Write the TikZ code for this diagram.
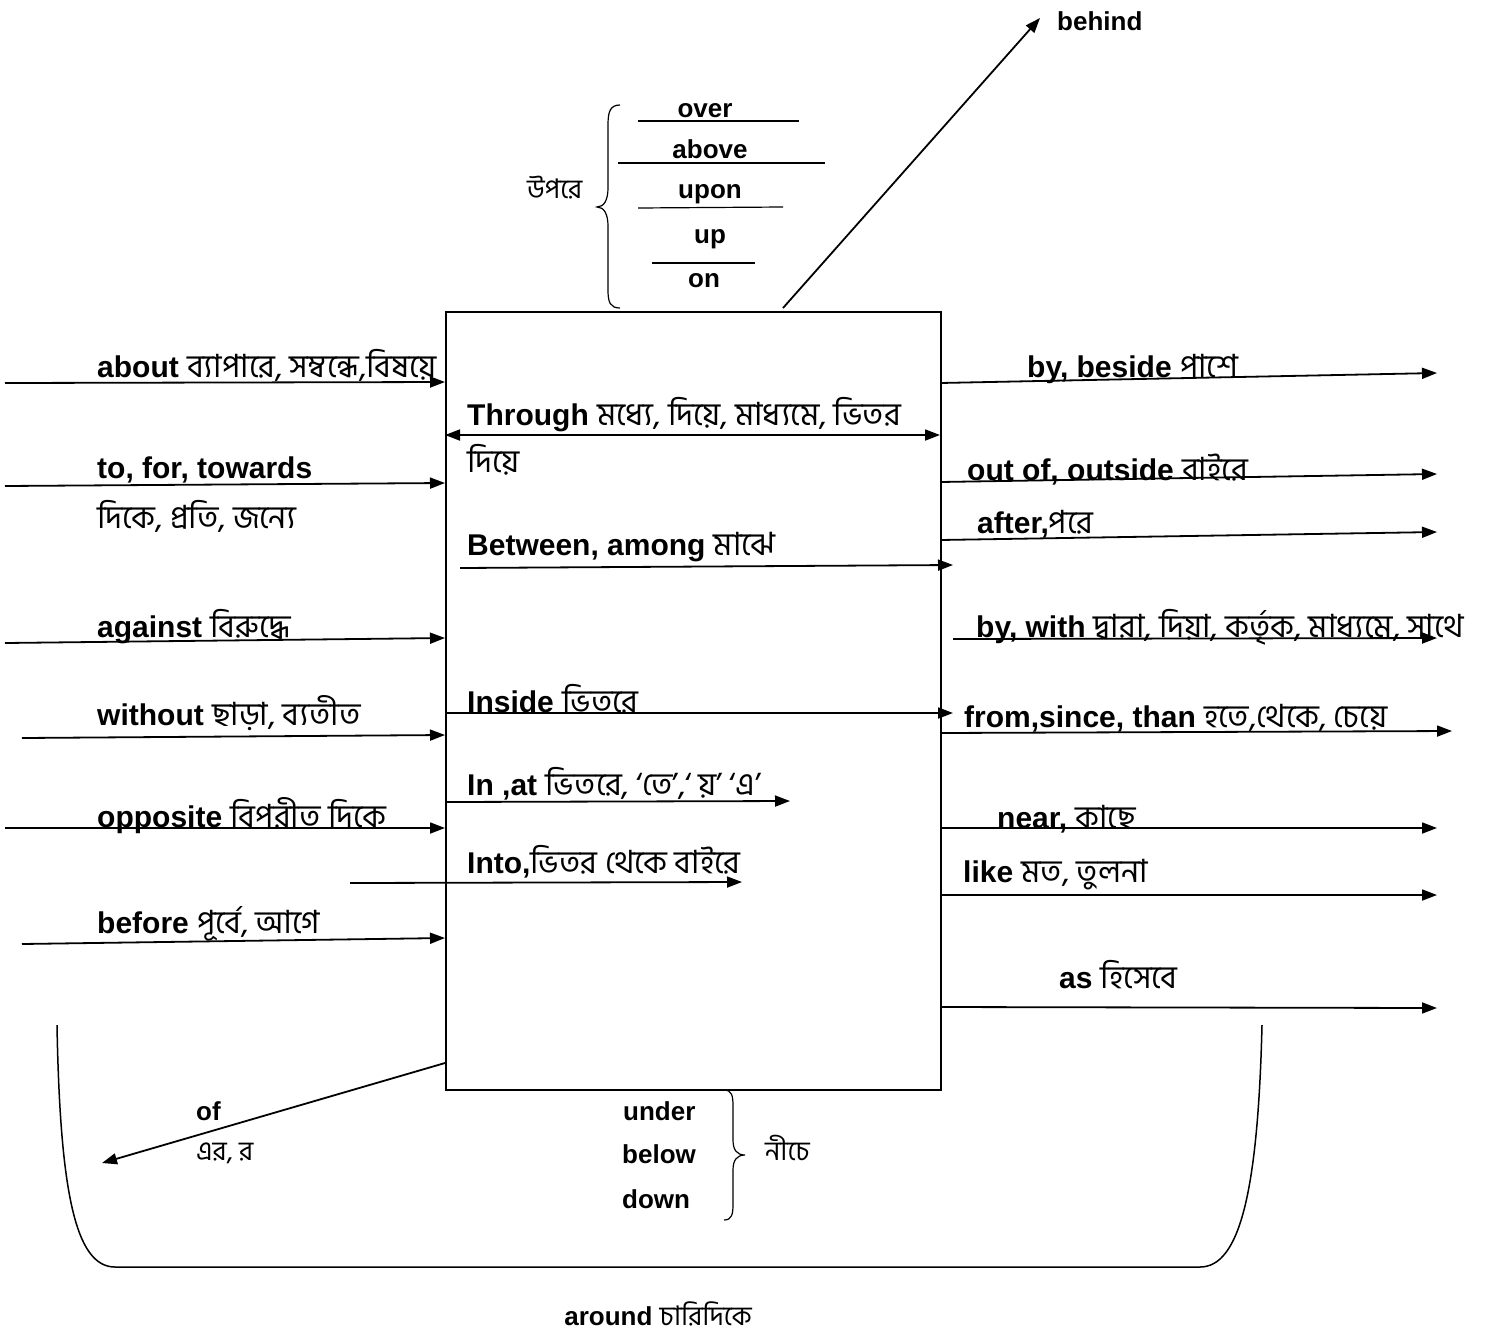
\documentclass[tikz,border=0pt]{standalone}
\usepackage{fontspec}
\setmainfont{Liberation Sans}
\newfontfamily\bnfont[Script=Bengali]{Hind Siliguri}
\usetikzlibrary{arrows.meta}
\newcommand\bng[1]{{\bnfont\mdseries\fontsize{32}{38}\selectfont #1}}
\newcommand\bngs[1]{{\bnfont\mdseries\fontsize{27}{32}\selectfont #1}}
\tikzset{
  lbl/.style={anchor=base west, inner sep=0pt, font=\fontsize{30}{36}\selectfont\bfseries},
  sml/.style={anchor=base west, inner sep=0pt, font=\fontsize{26}{30}\selectfont\bfseries},
  smc/.style={anchor=base, inner sep=0pt, font=\fontsize{26}{30}\selectfont\bfseries},
  arr/.style={line width=1.8pt, -{Triangle[length=15pt,width=11pt]}},
  darr/.style={line width=1.8pt, {Triangle[length=15pt,width=11pt]}-{Triangle[length=15pt,width=11pt]}},
  thin/.style={line width=1.2pt},
  brace/.style={line width=1.2pt}
}
\begin{document}
\begin{tikzpicture}[x=1pt,y=-1pt]
\useasboundingbox (0,0) rectangle (1493,1339);
% central box
\node[draw, line width=1.5pt, minimum width=495pt, minimum height=778pt, anchor=north west, inner sep=0pt] (box) at (445,311) {};

% ---------- left side ----------
\node[lbl] (about) at (97,377) {about \bng{ব্যাপারে, সম্বন্ধে,বিষয়ে}};
\node[lbl] (towards) at (97,478) {to, for, towards};
\node[lbl] (towardsbn) at (97,528) {\bng{দিকে, প্রতি, জন্যে}};
\node[lbl] (against) at (97,637) {against \bng{বিরুদ্ধে}};
\node[lbl] (without) at (97,725) {without \bng{ছাড়া, ব্যতীত}};
\node[lbl] (opposite) at (97,827) {opposite \bng{বিপরীত দিকে}};
\node[lbl] (before) at (97,933) {before \bng{পূর্বে, আগে}};

\coordinate (aS) at (5,383);   \coordinate (aE) at (445,382);
\coordinate (tS) at (5,486);   \coordinate (tE) at (445,483);
\coordinate (gS) at (5,643);   \coordinate (gE) at (445,638);
\coordinate (wS) at (22,738);  \coordinate (wE) at (445,735);
\coordinate (oS) at (5,828);   \coordinate (oE) at (445,828);
\coordinate (bS) at (22,944);  \coordinate (bE) at (445,938);
\draw[arr] (aS) -- (aE);
\draw[arr] (tS) -- (tE);
\draw[arr] (gS) -- (gE);
\draw[arr] (wS) -- (wE);
\draw[arr] (oS) -- (oE);
\draw[arr] (bS) -- (bE);

% ---------- inside the box ----------
\node[lbl] (through) at (467,425) {Through \bng{মধ্যে, দিয়ে, মাধ্যমে, ভিতর}};
\node[lbl] (through2) at (467,472) {\bng{দিয়ে}};
\node[lbl] (between) at (467,555) {Between, among \bng{মাঝে}};
\node[lbl] (inside) at (467,712) {Inside \bng{ভিতরে}};
\node[lbl] (inat) at (467,795) {In ,at \bng{ভিতরে, ‘তে’,‘ য়’ ‘এ’}};
\node[lbl] (into) at (467,873) {Into,\bng{ভিতর থেকে বাইরে}};

\coordinate (thS) at (445,435); \coordinate (thE) at (940,435);
\coordinate (beS) at (460,568); \coordinate (beE) at (953,565);
\coordinate (inS) at (445,713); \coordinate (inE) at (953,713);
\coordinate (iaS) at (445,802); \coordinate (iaE) at (790,801);
\coordinate (ioS) at (350,883); \coordinate (ioE) at (742,882);
\draw[darr] (thS) -- (thE);
\draw[arr] (beS) -- (beE);
\draw[arr] (inS) -- (inE);
\draw[arr] (iaS) -- (iaE);
\draw[arr] (ioS) -- (ioE);

% ---------- right side ----------
\node[lbl] (beside) at (1027,377) {by, beside \bng{পাশে}};
\node[lbl] (outof) at (967,480) {out of, outside \bng{বাইরে}};
\node[lbl] (after) at (977,533) {after,\bng{পরে}};
\node[lbl] (bywith) at (976,637) {by, with \bng{দ্বারা, দিয়া, কর্তৃক, মাধ্যমে, সাথে}};
\node[lbl] (from) at (964,727) {from,since, than \bng{হতে,থেকে, চেয়ে}};
\node[lbl] (near) at (997,828) {near, \bng{কাছে}};
\node[lbl] (like) at (963,882) {like \bng{মত, তুলনা}};
\node[lbl] (as) at (1059,988) {as \bng{হিসেবে}};

\coordinate (r1S) at (940,383);  \coordinate (r1E) at (1437,373);
\coordinate (r2S) at (940,482);  \coordinate (r2E) at (1437,474);
\coordinate (r3S) at (940,540);  \coordinate (r3E) at (1437,532);
\coordinate (r4S) at (953,639);  \coordinate (r4E) at (1437,638);
\coordinate (r5S) at (940,733);  \coordinate (r5E) at (1452,731);
\coordinate (r6S) at (940,828);  \coordinate (r6E) at (1437,828);
\coordinate (r7S) at (940,895);  \coordinate (r7E) at (1437,895);
\coordinate (r8S) at (940,1007); \coordinate (r8E) at (1437,1008);
\draw[arr] (r1S) -- (r1E);
\draw[arr] (r2S) -- (r2E);
\draw[arr] (r3S) -- (r3E);
\draw[arr] (r4S) -- (r4E);
\draw[arr] (r5S) -- (r5E);
\draw[arr] (r6S) -- (r6E);
\draw[arr] (r7S) -- (r7E);
\draw[arr] (r8S) -- (r8E);

% ---------- top ----------
\node[sml] (behind) at (1057,30) {behind};
\coordinate (bhS) at (783,308); \coordinate (bhE) at (1040,18);
\draw[arr] (bhS) -- (bhE);

\node[anchor=base west, inner sep=0pt] (upore) at (527,198) {\bngs{উপরে}};
\draw[brace] (620,105) .. controls (610,105) and (608,112) .. (608,125) -- (608,188)
  .. controls (608,200) and (604,207) .. (597,207)
  .. controls (604,207) and (608,214) .. (608,226) -- (608,290)
  .. controls (608,302) and (610,308) .. (620,308);
\node[smc] (over) at (705,117) {over};
\node[smc] (above) at (710,158) {above};
\node[smc] (upon) at (710,198) {upon};
\node[smc] (up) at (710,243) {up};
\node[smc] (on) at (704,287) {on};
\coordinate (l1a) at (638,121); \coordinate (l1b) at (799,121);
\coordinate (l2a) at (618,163); \coordinate (l2b) at (825,163);
\coordinate (l3a) at (638,208); \coordinate (l3b) at (783,207);
\coordinate (l4a) at (652,263); \coordinate (l4b) at (755,263);
\draw[thin] (l1a) -- (l1b);
\draw[thin] (l2a) -- (l2b);
\draw[thin] (l3a) -- (l3b);
\draw[thin] (l4a) -- (l4b);

% ---------- bottom ----------
\node[sml] (of) at (196,1120) {of};
\node[anchor=base west, inner sep=0pt] (ofbn) at (196,1160) {\bngs{এর, র}};
\coordinate (ofS) at (445,1063); \coordinate (ofE) at (102,1163);
\draw[arr] (ofS) -- (ofE);

\node[sml] (under) at (623,1120) {under};
\node[sml] (below) at (622,1163) {below};
\node[sml] (down) at (622,1208) {down};
\draw[brace] (724,1090) .. controls (732,1090) and (733,1096) .. (733,1106) -- (733,1140)
  .. controls (733,1150) and (737,1155) .. (745,1155)
  .. controls (737,1155) and (733,1160) .. (733,1170) -- (733,1204)
  .. controls (733,1214) and (732,1220) .. (724,1220);
\node[anchor=base west, inner sep=0pt] (niche) at (765,1160) {\bngs{নীচে}};

% around curve
\coordinate (uL) at (57,1025); \coordinate (uBL) at (115,1267);
\coordinate (uBR) at (1200,1267); \coordinate (uR) at (1262,1025);
\draw[line width=1.5pt] (uL) .. controls (60,1190) and (75,1267) .. (uBL) -- (uBR)
  .. controls (1240,1267) and (1258,1190) .. (uR);
\node[sml, anchor=base] (around) at (658,1325) {around \bngs{চারিদিকে}};
\end{tikzpicture}
\end{document}
